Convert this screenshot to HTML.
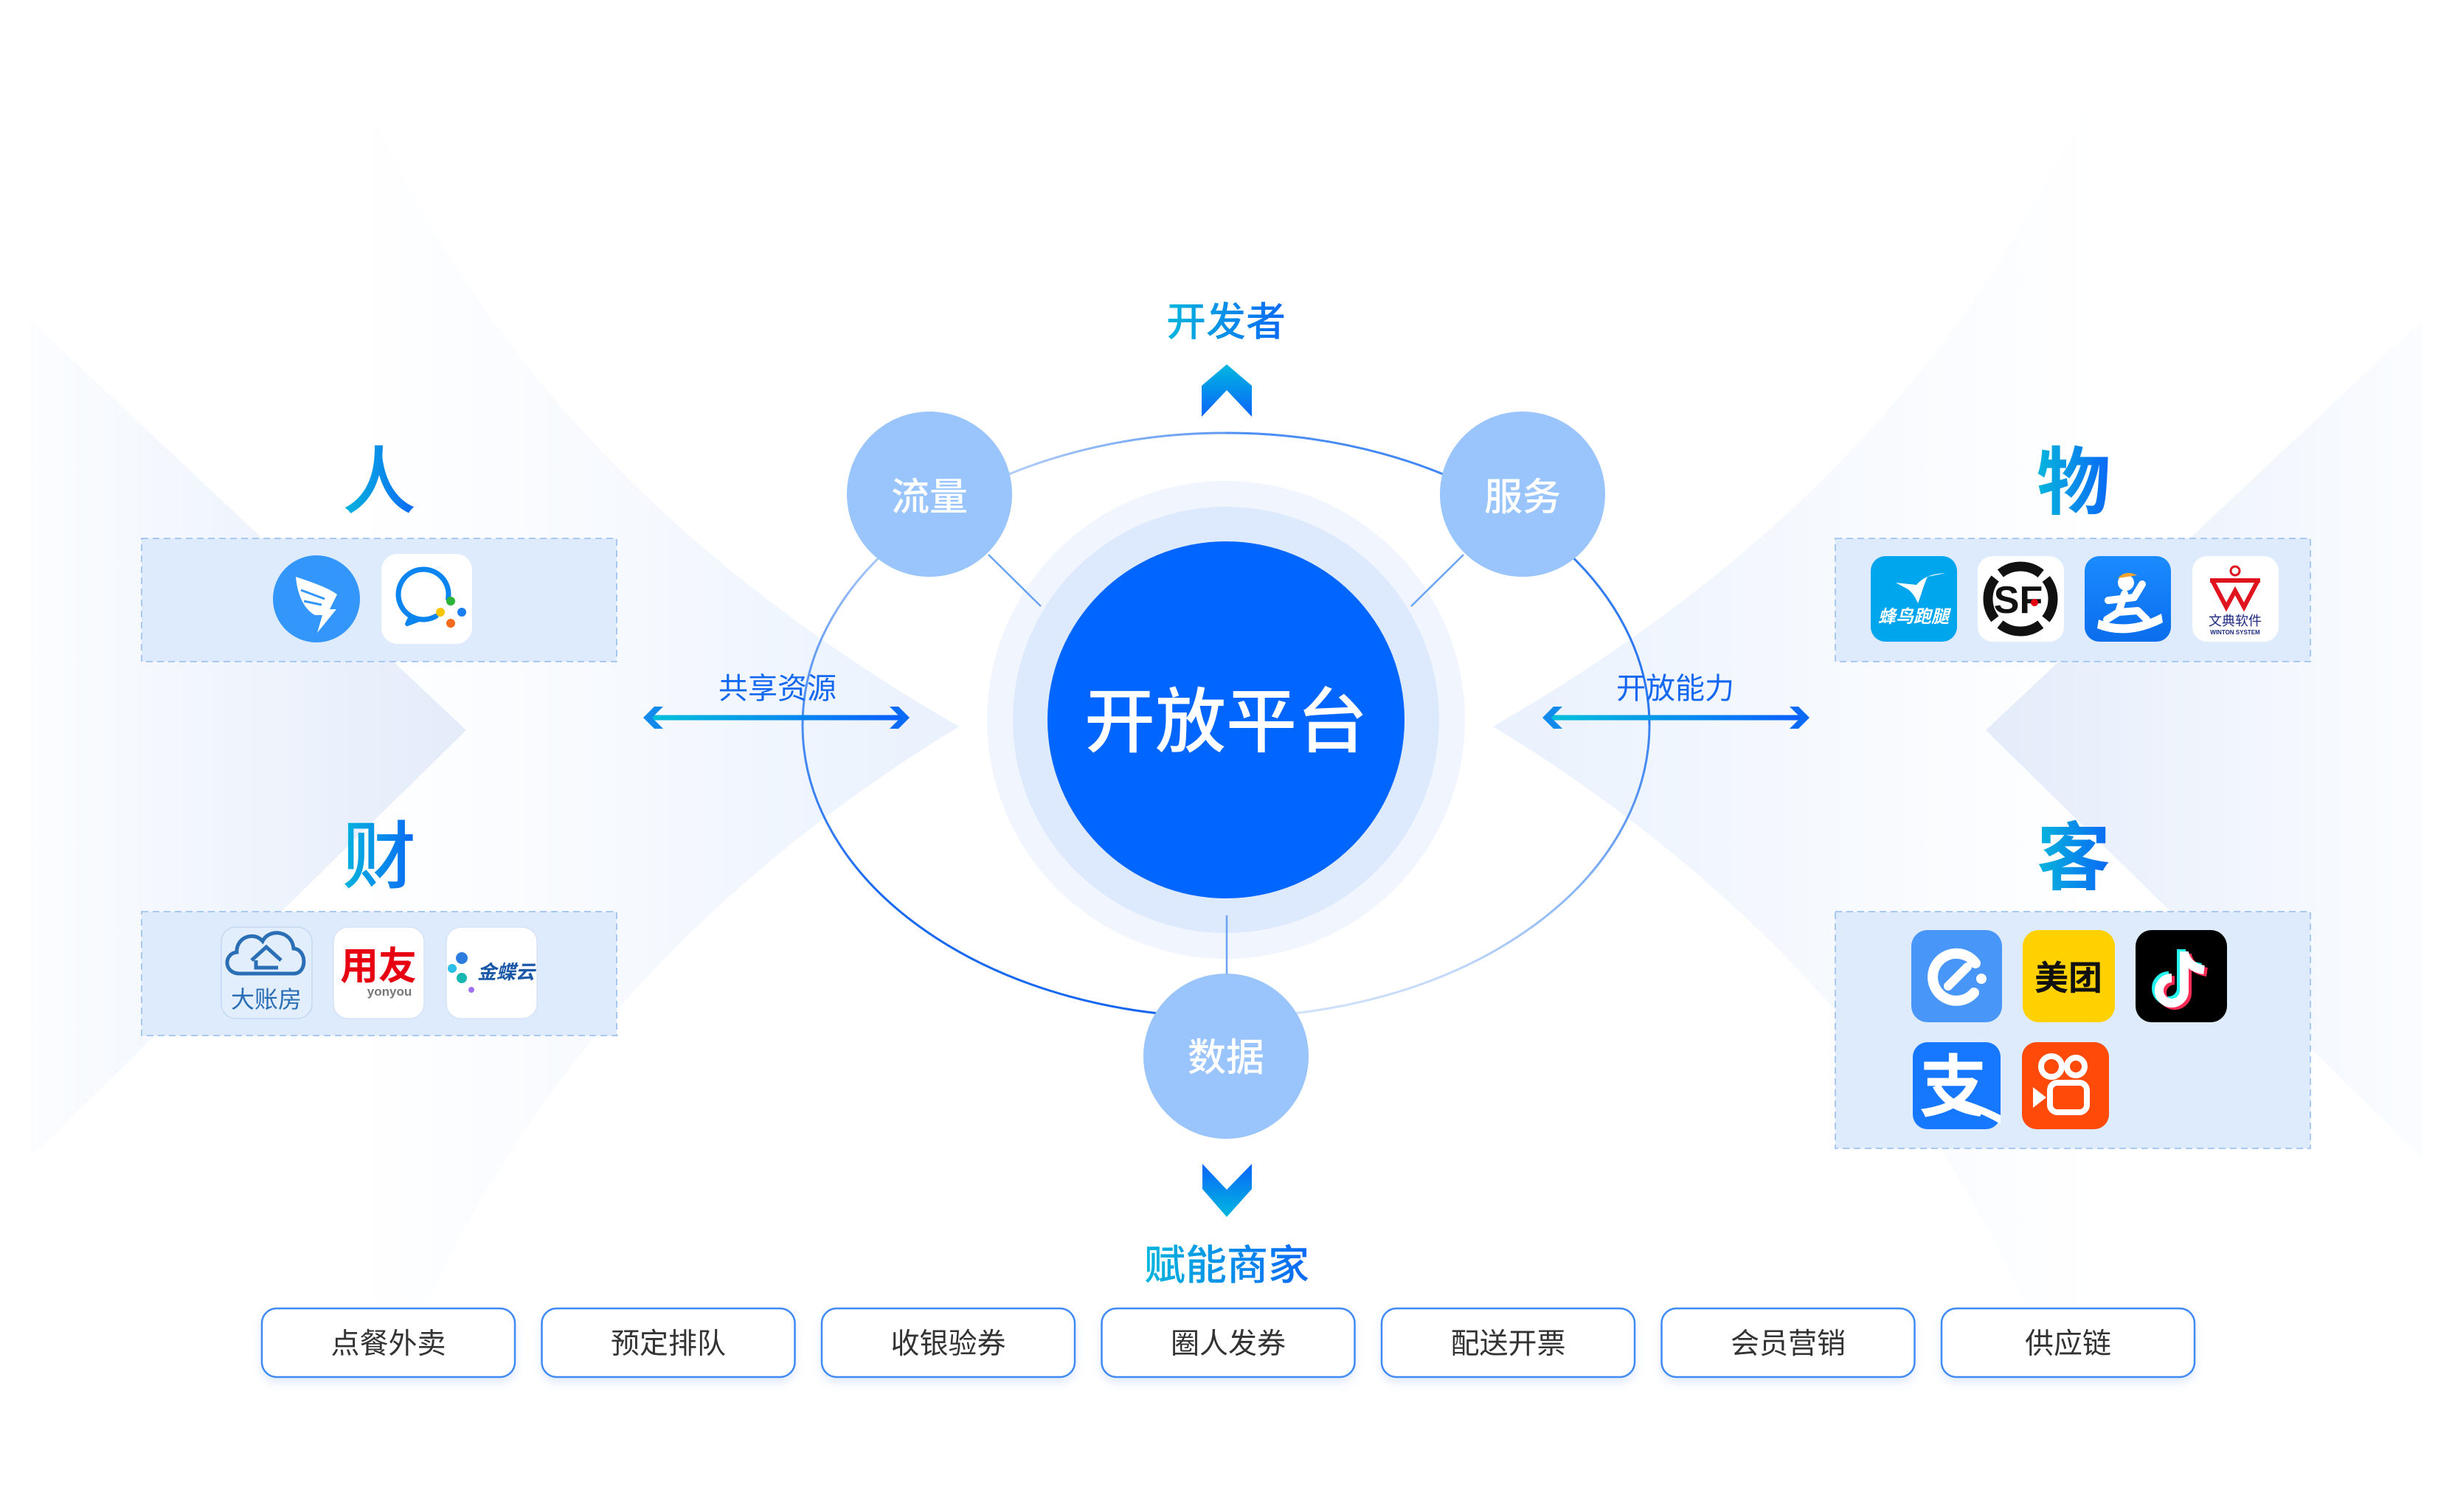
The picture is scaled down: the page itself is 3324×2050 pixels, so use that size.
<!DOCTYPE html>
<html><head><meta charset="utf-8">
<style>
html,body{margin:0;padding:0;background:#fff;}
body{width:3324px;height:2050px;overflow:hidden;}
svg{display:block;}
text{font-family:"Liberation Sans","Noto Sans CJK SC",sans-serif;}
</style></head>
<body>
<svg width="3324" height="2050" viewBox="0 0 3324 2050" xmlns="http://www.w3.org/2000/svg">
<defs>
  <linearGradient id="bigG" gradientUnits="userSpaceOnUse" x1="481" y1="0" x2="1300" y2="0">
    <stop offset="0" stop-color="#ffffff"/>
    <stop offset="0.55" stop-color="#f4f8fe"/>
    <stop offset="1" stop-color="#e9f1fd"/>
  </linearGradient>
  <linearGradient id="smallG" gradientUnits="userSpaceOnUse" x1="41" y1="0" x2="632" y2="0">
    <stop offset="0" stop-color="#fbfdff"/>
    <stop offset="1" stop-color="#e4ecfa"/>
  </linearGradient>
  <linearGradient id="tg" x1="0" y1="0" x2="1" y2="0">
    <stop offset="0" stop-color="#06b6dc"/>
    <stop offset="1" stop-color="#0a68f5"/>
  </linearGradient>
  <linearGradient id="eA" gradientUnits="userSpaceOnUse" x1="1088" y1="983" x2="1662" y2="587">
    <stop offset="0" stop-color="#4a8cf3"/>
    <stop offset="0.3" stop-color="#a8c8f8"/>
    <stop offset="0.6" stop-color="#b3cff9"/>
    <stop offset="1" stop-color="#5f99f4"/>
  </linearGradient>
  <linearGradient id="eB" gradientUnits="userSpaceOnUse" x1="1662" y1="587" x2="2236" y2="983">
    <stop offset="0" stop-color="#4f90f4"/>
    <stop offset="1" stop-color="#2a76f2"/>
  </linearGradient>
  <linearGradient id="eC" gradientUnits="userSpaceOnUse" x1="2236" y1="983" x2="1662" y2="1379">
    <stop offset="0" stop-color="#3a82f2"/>
    <stop offset="0.3" stop-color="#88b5f6"/>
    <stop offset="0.6" stop-color="#c4d9fa"/>
    <stop offset="1" stop-color="#d3e3fb"/>
  </linearGradient>
  <linearGradient id="eD" gradientUnits="userSpaceOnUse" x1="1662" y1="1379" x2="1088" y2="983">
    <stop offset="0" stop-color="#1565f0"/>
    <stop offset="0.7" stop-color="#1a6bf0"/>
    <stop offset="1" stop-color="#4a8cf3"/>
  </linearGradient>
  <linearGradient id="upG" x1="0" y1="0" x2="0" y2="1">
    <stop offset="0" stop-color="#00b8df"/>
    <stop offset="1" stop-color="#0a64fa"/>
  </linearGradient>
  <linearGradient id="dnG" x1="0" y1="0" x2="0" y2="1">
    <stop offset="0" stop-color="#0a64fa"/>
    <stop offset="1" stop-color="#00b8df"/>
  </linearGradient>
  <linearGradient id="arL" gradientUnits="userSpaceOnUse" x1="884" y1="0" x2="1221" y2="0">
    <stop offset="0" stop-color="#00c0da"/>
    <stop offset="1" stop-color="#0a5eff"/>
  </linearGradient>
  <linearGradient id="arR" gradientUnits="userSpaceOnUse" x1="2103" y1="0" x2="2441" y2="0">
    <stop offset="0" stop-color="#00c0da"/>
    <stop offset="1" stop-color="#0a5eff"/>
  </linearGradient>
  <linearGradient id="dadaG" x1="0" y1="0" x2="0" y2="1">
    <stop offset="0" stop-color="#1b8bff"/>
    <stop offset="1" stop-color="#0a6ded"/>
  </linearGradient>
  <filter id="sh" x="-10%" y="-20%" width="120%" height="160%">
    <feDropShadow dx="0" dy="7" stdDeviation="6" flood-color="#4a82dc" flood-opacity="0.16"/>
  </filter>
</defs>

<!-- background chevrons left -->
<g>
  <path d="M481,96 Q700,640 1300,985 Q800,1290 580,1765 L481,1765 Z" fill="url(#bigG)"/>
  <path d="M41,434 L632,990 L41,1570 Z" fill="url(#smallG)"/>
</g>
<!-- background chevrons right (mirrored) -->
<g transform="translate(3324,0) scale(-1,1)">
  <path d="M481,96 Q700,640 1300,985 Q800,1290 580,1765 L481,1765 Z" fill="url(#bigG)"/>
  <path d="M41,434 L632,990 L41,1570 Z" fill="url(#smallG)"/>
</g>

<!-- dashed boxes -->
<g fill="#deebfd" stroke="#a9c9f3" stroke-width="2" stroke-dasharray="9 6">
  <rect x="192" y="730" width="644" height="167"/>
  <rect x="192" y="1236" width="644" height="168"/>
  <rect x="2488" y="730" width="644" height="167"/>
  <rect x="2488" y="1236" width="644" height="321"/>
</g>

<!-- category labels -->
<g fill="url(#tg)" text-anchor="middle" font-size="100" font-weight="500">
  <text x="514" y="688">人</text>
  <text x="514" y="1196">财</text>
  <text x="2811" y="689" font-weight="700">物</text>
  <text x="2811" y="1198" font-weight="700">客</text>
</g>

<!-- orbit ellipse in four arcs -->
<g fill="none" stroke-width="3">
  <path d="M1088,983 A574,396 0 0 1 1662,587" stroke="url(#eA)"/>
  <path d="M1662,587 A574,396 0 0 1 2236,983" stroke="url(#eB)"/>
  <path d="M2236,983 A574,396 0 0 1 1662,1379" stroke="url(#eC)"/>
  <path d="M1662,1379 A574,396 0 0 1 1088,983" stroke="url(#eD)"/>
</g>

<!-- rings -->
<circle cx="1662" cy="976" r="324" fill="#f1f6fe"/>
<circle cx="1662" cy="976" r="289" fill="#dde9fc"/>
<circle cx="1662" cy="976" r="242" fill="#0066ff"/>
<text x="1662" y="1012" text-anchor="middle" font-size="96" font-weight="500" fill="#ffffff">开放平台</text>

<!-- connectors -->
<g stroke="#6aa3f4" stroke-width="2.5">
  <line x1="1340" y1="752" x2="1411" y2="822"/>
  <line x1="1984" y1="752" x2="1913" y2="822"/>
  <line x1="1663" y1="1241" x2="1663" y2="1322"/>
</g>

<!-- satellites -->
<g fill="#99c4fc">
  <circle cx="1260" cy="670" r="112"/>
  <circle cx="2064" cy="670" r="112"/>
  <circle cx="1662" cy="1432" r="112"/>
</g>
<g fill="#ffffff" font-size="52" text-anchor="middle" font-weight="500">
  <text x="1260" y="692">流量</text>
  <text x="2064" y="692">服务</text>
  <text x="1662" y="1452">数据</text>
</g>

<!-- top: developer -->
<text x="1662" y="455" text-anchor="middle" font-size="54" font-weight="500" fill="url(#tg)">开发者</text>
<polygon points="1663,494 1697,523 1697,565 1663,529 1629,565 1629,523" fill="url(#upG)"/>

<!-- bottom: merchants -->
<polygon points="1630,1578 1663,1613 1697,1578 1697,1612 1663,1650 1630,1612" fill="url(#dnG)"/>
<text x="1663" y="1735" text-anchor="middle" font-size="56" font-weight="500" fill="url(#tg)">赋能商家</text>

<!-- share arrows -->
<text x="1054" y="947" text-anchor="middle" font-size="40" fill="#1468f0">共享资源</text>
<rect x="884" y="969.5" width="337" height="7" fill="url(#arL)"/>
<polygon points="872,973 887,958 899,958 884,973 899,988 887,988" fill="#118aec"/>
<polygon points="1233,973 1218,958 1206,958 1221,973 1206,988 1218,988" fill="#0a6cf6"/>

<text x="2271" y="947" text-anchor="middle" font-size="40" fill="#1468f0">开放能力</text>
<rect x="2103" y="969.5" width="338" height="7" fill="url(#arR)"/>
<polygon points="2091,973 2106,958 2118,958 2103,973 2118,988 2106,988" fill="#118aec"/>
<polygon points="2453,973 2438,958 2426,958 2441,973 2426,988 2438,988" fill="#0a6cf6"/>

<!-- 人 icons -->
<circle cx="429" cy="812" r="59" fill="#3296fa"/>
<path d="M401,782 C425,790 447,798 457,806 L447,826 L456,826 L430,858 L437,834 L427,834 C412,826 403,806 401,782 Z" fill="#ffffff"/>
<path d="M408,800 L440,812 M412,815 L436,820" stroke="#3296fa" stroke-width="3" fill="none"/>
<rect x="517" y="751" width="123" height="122" rx="22" fill="#ffffff"/>
<path d="M591,835.4 A34,34 0 1 1 607.5,811.9" fill="none" stroke="#0a84ef" stroke-width="7" stroke-linecap="round"/>
<path d="M558,834 L552,846 L568,840" fill="none" stroke="#0a84ef" stroke-width="6" stroke-linejoin="round"/>
<circle cx="611" cy="815" r="6" fill="#2db33a"/>
<circle cx="597" cy="830" r="6" fill="#f7c400"/>
<circle cx="626" cy="830" r="6" fill="#1a7ff0"/>
<circle cx="611" cy="845" r="6" fill="#f26b1d"/>

<!-- 财 icons -->
<rect x="300" y="1257" width="123" height="124" rx="20" fill="#e3eefc" stroke="#c3d8f3" stroke-width="1.5"/>
<path d="M325,1320 C303,1320 303,1293 321,1291 C320,1271 344,1262 356,1276 C365,1258 396,1262 398,1286 C416,1287 417,1320 398,1320 Z" fill="none" stroke="#2a6fb5" stroke-width="5"/>
<path d="M341,1302 L361,1284 L381,1302 M347,1302 L347,1312 L377,1312" fill="none" stroke="#2a6fb5" stroke-width="5"/>
<text x="361" y="1366" text-anchor="middle" font-size="32" fill="#2a6fb5">大账房</text>
<rect x="452" y="1257" width="123" height="124" rx="20" fill="#ffffff" stroke="#d5e3f6" stroke-width="1.5"/>
<text x="513" y="1328" text-anchor="middle" font-size="52" font-weight="700" fill="#e60012">用友</text>
<text x="528" y="1350" text-anchor="middle" font-size="17" font-weight="700" fill="#777">yonyou</text>
<rect x="605" y="1257" width="123" height="124" rx="20" fill="#ffffff" stroke="#d5e3f6" stroke-width="1.5"/>
<circle cx="626" cy="1299" r="8" fill="#2d7de0"/>
<circle cx="613" cy="1313" r="6" fill="#2ac0e8"/>
<circle cx="626" cy="1326" r="7" fill="#16b7b0"/>
<circle cx="639" cy="1342" r="4" fill="#a070f0"/>
<text x="686" y="1327" text-anchor="middle" font-size="26" font-weight="700" font-style="italic" fill="#1b58a8">金蝶云</text>

<!-- 物 icons -->
<rect x="2536" y="754" width="117" height="116" rx="20" fill="#00a6ed"/>
<path d="M2570,790 L2598,793 C2605,785 2615,778 2637,777 L2613,782 C2607,795 2604,808 2600,818 C2596,808 2590,800 2583,797 Z" fill="#ffffff"/>
<text x="2594" y="844" text-anchor="middle" font-size="24" font-weight="700" font-style="italic" fill="#ffffff">蜂鸟跑腿</text>

<rect x="2681" y="754" width="117" height="116" rx="20" fill="#ffffff"/>
<circle cx="2739" cy="812" r="44" fill="none" stroke="#111" stroke-width="13" stroke-dasharray="59.1 10" stroke-dashoffset="29.5"/>
<text x="2736" y="831" text-anchor="middle" font-size="52" font-weight="700" fill="#111" style="font-family:'Liberation Sans',sans-serif">SF</text>
<circle cx="2758" cy="817" r="5" fill="#e60012"/>

<rect x="2826" y="754" width="117" height="116" rx="20" fill="url(#dadaG)"/>
<circle cx="2882" cy="790" r="11" fill="#ffffff"/>
<path d="M2871,784 Q2882,772 2897,780 Z" fill="#f3a52b"/>
<path d="M2880,805 L2872,830 M2858,814 L2893,810 L2904,792 M2872,830 L2856,840 M2872,830 L2898,828 L2910,840" fill="none" stroke="#ffffff" stroke-width="10" stroke-linecap="round" stroke-linejoin="round"/>
<path d="M2845,840 Q2885,856 2930,832 L2932,844 Q2885,868 2843,852 Z" fill="#ffffff"/>

<rect x="2972" y="754" width="117" height="116" rx="20" fill="#ffffff"/>
<circle cx="3030" cy="774" r="6" fill="none" stroke="#e0141e" stroke-width="3"/>
<path d="M2996,787 L3064,787 M2999,787 L3018,823 L3030,801 L3042,823 L3061,787" fill="none" stroke="#e0141e" stroke-width="6" stroke-linejoin="miter"/>
<text x="3030" y="848" text-anchor="middle" font-size="18" fill="#1d2a80">文典软件</text>
<text x="3030" y="860" text-anchor="middle" font-size="8" font-weight="700" fill="#1d2a80" style="font-family:'Liberation Sans',sans-serif">WINTON SYSTEM</text>

<!-- 客 icons -->
<rect x="2591" y="1261" width="123" height="125" rx="22" fill="#4896f7"/>
<path d="M2678,1306 A32,32 0 1 0 2676,1346" fill="none" stroke="#ffffff" stroke-width="14" stroke-linecap="round"/>
<path d="M2641,1337 L2667,1311" stroke="#ffffff" stroke-width="12" stroke-linecap="round"/>
<circle cx="2686" cy="1327" r="7" fill="#ffffff"/>

<rect x="2742" y="1261" width="125" height="125" rx="22" fill="#ffd100"/>
<text x="2804" y="1342" text-anchor="middle" font-size="46" font-weight="700" fill="#111">美团</text>

<rect x="2895" y="1261" width="124" height="125" rx="22" fill="#000"/>
<g fill="none" stroke-width="12" stroke-linecap="butt">
  <g transform="translate(-4,-3)" stroke="#25f4ee">
    <path d="M2961,1290 L2961,1343 A17,17 0 1 1 2944,1326"/>
    <path d="M2961,1292 Q2966,1312 2988,1315"/>
  </g>
  <g transform="translate(4,3)" stroke="#fe2c55">
    <path d="M2961,1290 L2961,1343 A17,17 0 1 1 2944,1326"/>
    <path d="M2961,1292 Q2966,1312 2988,1315"/>
  </g>
  <g stroke="#ffffff">
    <path d="M2961,1290 L2961,1343 A17,17 0 1 1 2944,1326"/>
    <path d="M2961,1292 Q2966,1312 2988,1315"/>
  </g>
</g>

<rect x="2593" y="1413" width="119" height="118" rx="20" fill="#1677ff"/>
<text x="2648" y="1506" text-anchor="middle" font-size="92" font-weight="700" fill="#ffffff">支</text>
<path d="M2650,1488 Q2685,1498 2712,1512 L2712,1524 Q2682,1506 2646,1498 Z" fill="#ffffff"/>

<rect x="2741" y="1413" width="118" height="118" rx="20" fill="#ff4a0a"/>
<circle cx="2781" cy="1446" r="14" fill="none" stroke="#ffffff" stroke-width="8"/>
<circle cx="2814" cy="1446" r="12" fill="none" stroke="#ffffff" stroke-width="8"/>
<rect x="2779" y="1468" width="50" height="40" rx="10" fill="none" stroke="#ffffff" stroke-width="8"/>
<polygon points="2756,1474 2756,1502 2774,1488" fill="#ffffff"/>

<!-- bottom buttons -->
<g filter="url(#sh)" fill="#ffffff" stroke="#3f8af5" stroke-width="2.5">
  <rect x="355" y="1774" width="343" height="93" rx="20"/>
  <rect x="734.5" y="1774" width="343" height="93" rx="20"/>
  <rect x="1114" y="1774" width="343" height="93" rx="20"/>
  <rect x="1493.5" y="1774" width="343" height="93" rx="20"/>
  <rect x="1873" y="1774" width="343" height="93" rx="20"/>
  <rect x="2252.5" y="1774" width="343" height="93" rx="20"/>
  <rect x="2632" y="1774" width="343" height="93" rx="20"/>
</g>
<g fill="#333333" font-size="39" text-anchor="middle">
  <text x="526.5" y="1835">点餐外卖</text>
  <text x="906" y="1835">预定排队</text>
  <text x="1285.5" y="1835">收银验券</text>
  <text x="1665" y="1835">圈人发券</text>
  <text x="2044.5" y="1835">配送开票</text>
  <text x="2424" y="1835">会员营销</text>
  <text x="2803.5" y="1835">供应链</text>
</g>
</svg>
</body></html>
